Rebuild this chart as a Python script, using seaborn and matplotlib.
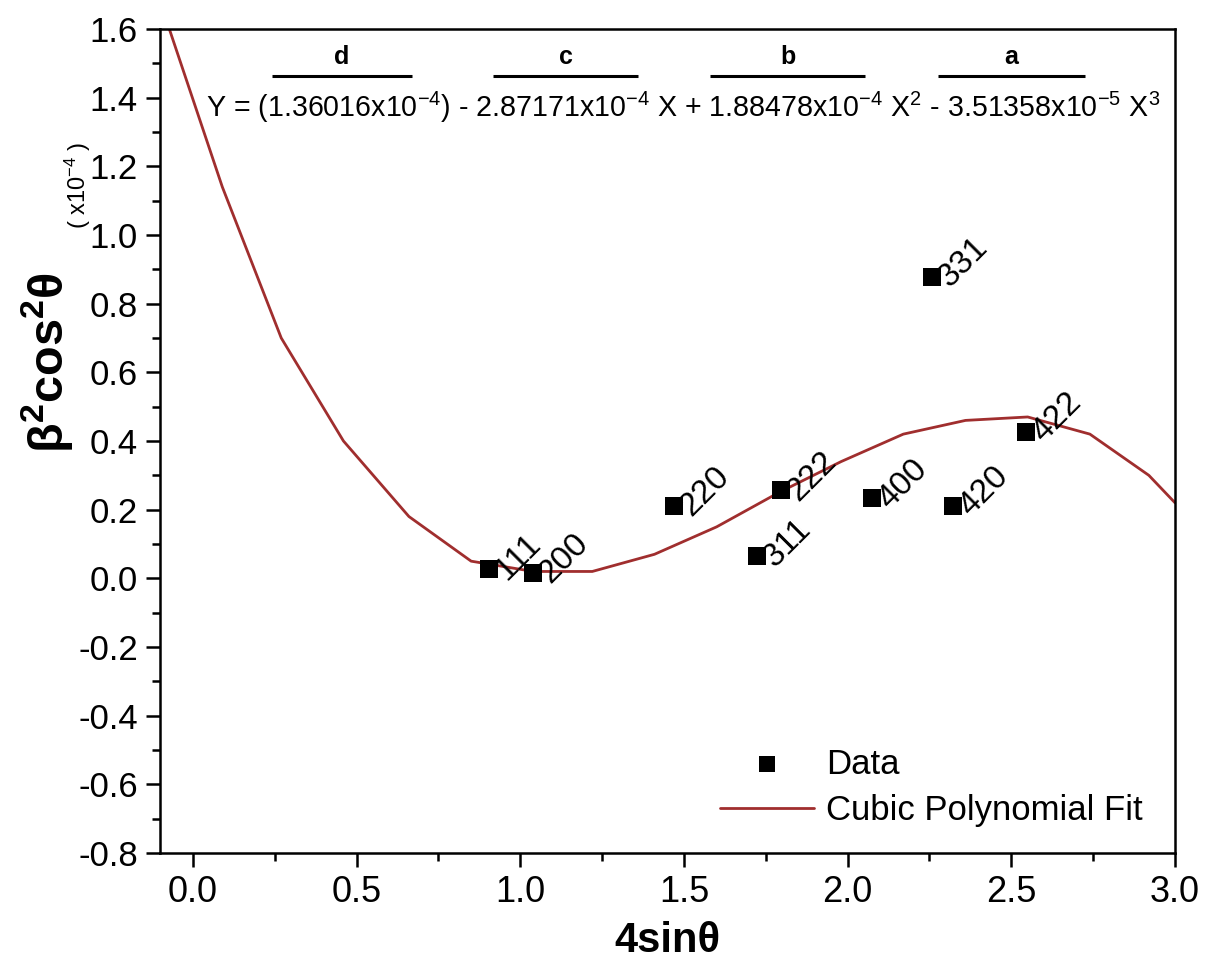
import matplotlib
matplotlib.use("Agg")
import matplotlib.pyplot as plt
from matplotlib import font_manager
from matplotlib.ticker import MultipleLocator
import seaborn as sns
import pandas as pd

# ---------------- data ----------------
hkl = ["111", "200", "220", "311", "222", "400", "331", "420", "422"]
x_data = [0.906, 1.040, 1.471, 1.724, 1.797, 2.075, 2.258, 2.321, 2.545]
y_data = [0.027, 0.016, 0.211, 0.065, 0.257, 0.234, 0.878, 0.211, 0.427]

x_fit = [-0.10, 0.09, 0.27, 0.46, 0.66, 0.85, 1.04, 1.22, 1.41, 1.60,
         1.79, 1.98, 2.17, 2.36, 2.55, 2.74, 2.92, 3.00]
y_fit = [1.68, 1.14, 0.70, 0.40, 0.18, 0.05, 0.02, 0.02, 0.07, 0.15,
         0.25, 0.34, 0.42, 0.46, 0.47, 0.42, 0.30, 0.22]

x_ticks = [0.0, 0.5, 1.0, 1.5, 2.0, 2.5, 3.0]
y_ticks = [1.6, 1.4, 1.2, 1.0, 0.8, 0.6, 0.4, 0.2, 0.0, -0.2, -0.4, -0.6, -0.8]

equation = (r"Y = (1.36016x10$^{-4}$) - 2.87171x10$^{-4}$ X + 1.88478x10$^{-4}$ X$^{2}$"
            r" - 3.51358x10$^{-5}$ X$^{3}$")
coef_letters = ["d", "c", "b", "a"]

# ---------------- style ----------------
sns.set_style("ticks")


def has_font(name):
    try:
        font_manager.findfont(name, fallback_to_default=False)
        return True
    except Exception:
        return False


REG = "Liberation Sans" if has_font("Liberation Sans") else "DejaVu Sans"
NARROW = "Liberation Sans Narrow" if has_font("Liberation Sans Narrow") else REG

plt.rcParams["font.family"] = [REG, "DejaVu Sans"]
plt.rcParams["mathtext.default"] = "regular"
plt.rcParams["axes.linewidth"] = 1.8
for key in ["text.color", "axes.labelcolor", "xtick.color", "ytick.color",
            "axes.edgecolor", "xtick.labelcolor", "ytick.labelcolor"]:
    plt.rcParams[key] = "black"

fig = plt.figure(figsize=(12.13, 9.80), dpi=100)
ax = fig.add_axes([0.132, 0.1296, 0.8367, 0.8408])

df_fit = pd.DataFrame({"x": x_fit, "y": y_fit})
df_dat = pd.DataFrame({"x": x_data, "y": y_data, "hkl": hkl})

sns.lineplot(data=df_fit, x="x", y="y", ax=ax, color="#a02e2e", linewidth=2.0,
             sort=False, label="Cubic Polynomial Fit", zorder=2)
sns.scatterplot(data=df_dat, x="x", y="y", ax=ax, marker="s", s=185,
                color="black", edgecolor="black", linewidth=0,
                label="Data", zorder=3)

for xv, yv, lab in zip(x_data, y_data, hkl):
    ax.annotate(lab, (xv, yv), xytext=(8, -4), textcoords="offset points",
                rotation=45, rotation_mode="anchor", ha="left", va="center",
                fontsize=24, family=REG, color="black", zorder=4)

ax.set_xlim(-0.1, 3.0)
ax.set_ylim(-0.8, 1.6)
ax.set_xticks(x_ticks)
ax.set_yticks(y_ticks)
ax.set_xticklabels([f"{v:.1f}" for v in x_ticks], family=NARROW, fontsize=26)
ax.set_yticklabels([f"{v:.1f}" for v in y_ticks], family=REG, fontsize=25)
ax.xaxis.set_minor_locator(MultipleLocator(0.25))
ax.yaxis.set_minor_locator(MultipleLocator(0.1))
ax.tick_params(axis="both", which="major", direction="out", length=10, width=1.8, pad=6)
ax.tick_params(axis="both", which="minor", direction="out", length=6, width=1.8)
for side in ["top", "right", "left", "bottom"]:
    ax.spines[side].set_visible(True)
    ax.spines[side].set_linewidth(1.8)
    ax.spines[side].set_color("black")

ax.set_xlabel(r"4sinθ", family=[NARROW, "DejaVu Sans"], fontsize=30,
              fontweight="bold", labelpad=8)
ax.set_ylabel(r"β$^{2}$cos$^{2}$θ", family=[REG, "DejaVu Sans"], fontsize=35,
              fontweight="bold")
ax.yaxis.set_label_coords(-0.084, 0.595)
ax.text(-0.081, 0.81, r"( x10$^{-4}$ )", transform=ax.transAxes, rotation=90,
        ha="center", va="center", fontsize=17, family=REG)

# equation with coefficient brackets
ax.text(0.515, 0.905, equation, transform=ax.transAxes, ha="center", va="center",
        fontsize=20.6, family=NARROW)
seg = [(0.110, 0.248), (0.328, 0.471), (0.542, 0.695), (0.766, 0.911)]
for (x0, x1), letter in zip(seg, coef_letters):
    ax.plot([x0, x1], [0.943, 0.943], transform=ax.transAxes, color="black",
            linewidth=2.2, solid_capstyle="butt", clip_on=False)
    ax.text((x0 + x1) / 2, 0.952, letter, transform=ax.transAxes, ha="center",
            va="bottom", fontsize=18, fontweight="bold", family=REG)

handles, labels = ax.get_legend_handles_labels()
order = [labels.index("Data"), labels.index("Cubic Polynomial Fit")]
ax.legend([handles[i] for i in order], [labels[i] for i in order],
          loc="upper left", bbox_to_anchor=(0.552, 0.128), frameon=False,
          fontsize=25, handlelength=2.7, handletextpad=0.35, labelspacing=0.38,
          borderpad=0, borderaxespad=0, markerscale=0.8)

fig.savefig("out.png", dpi=100)
